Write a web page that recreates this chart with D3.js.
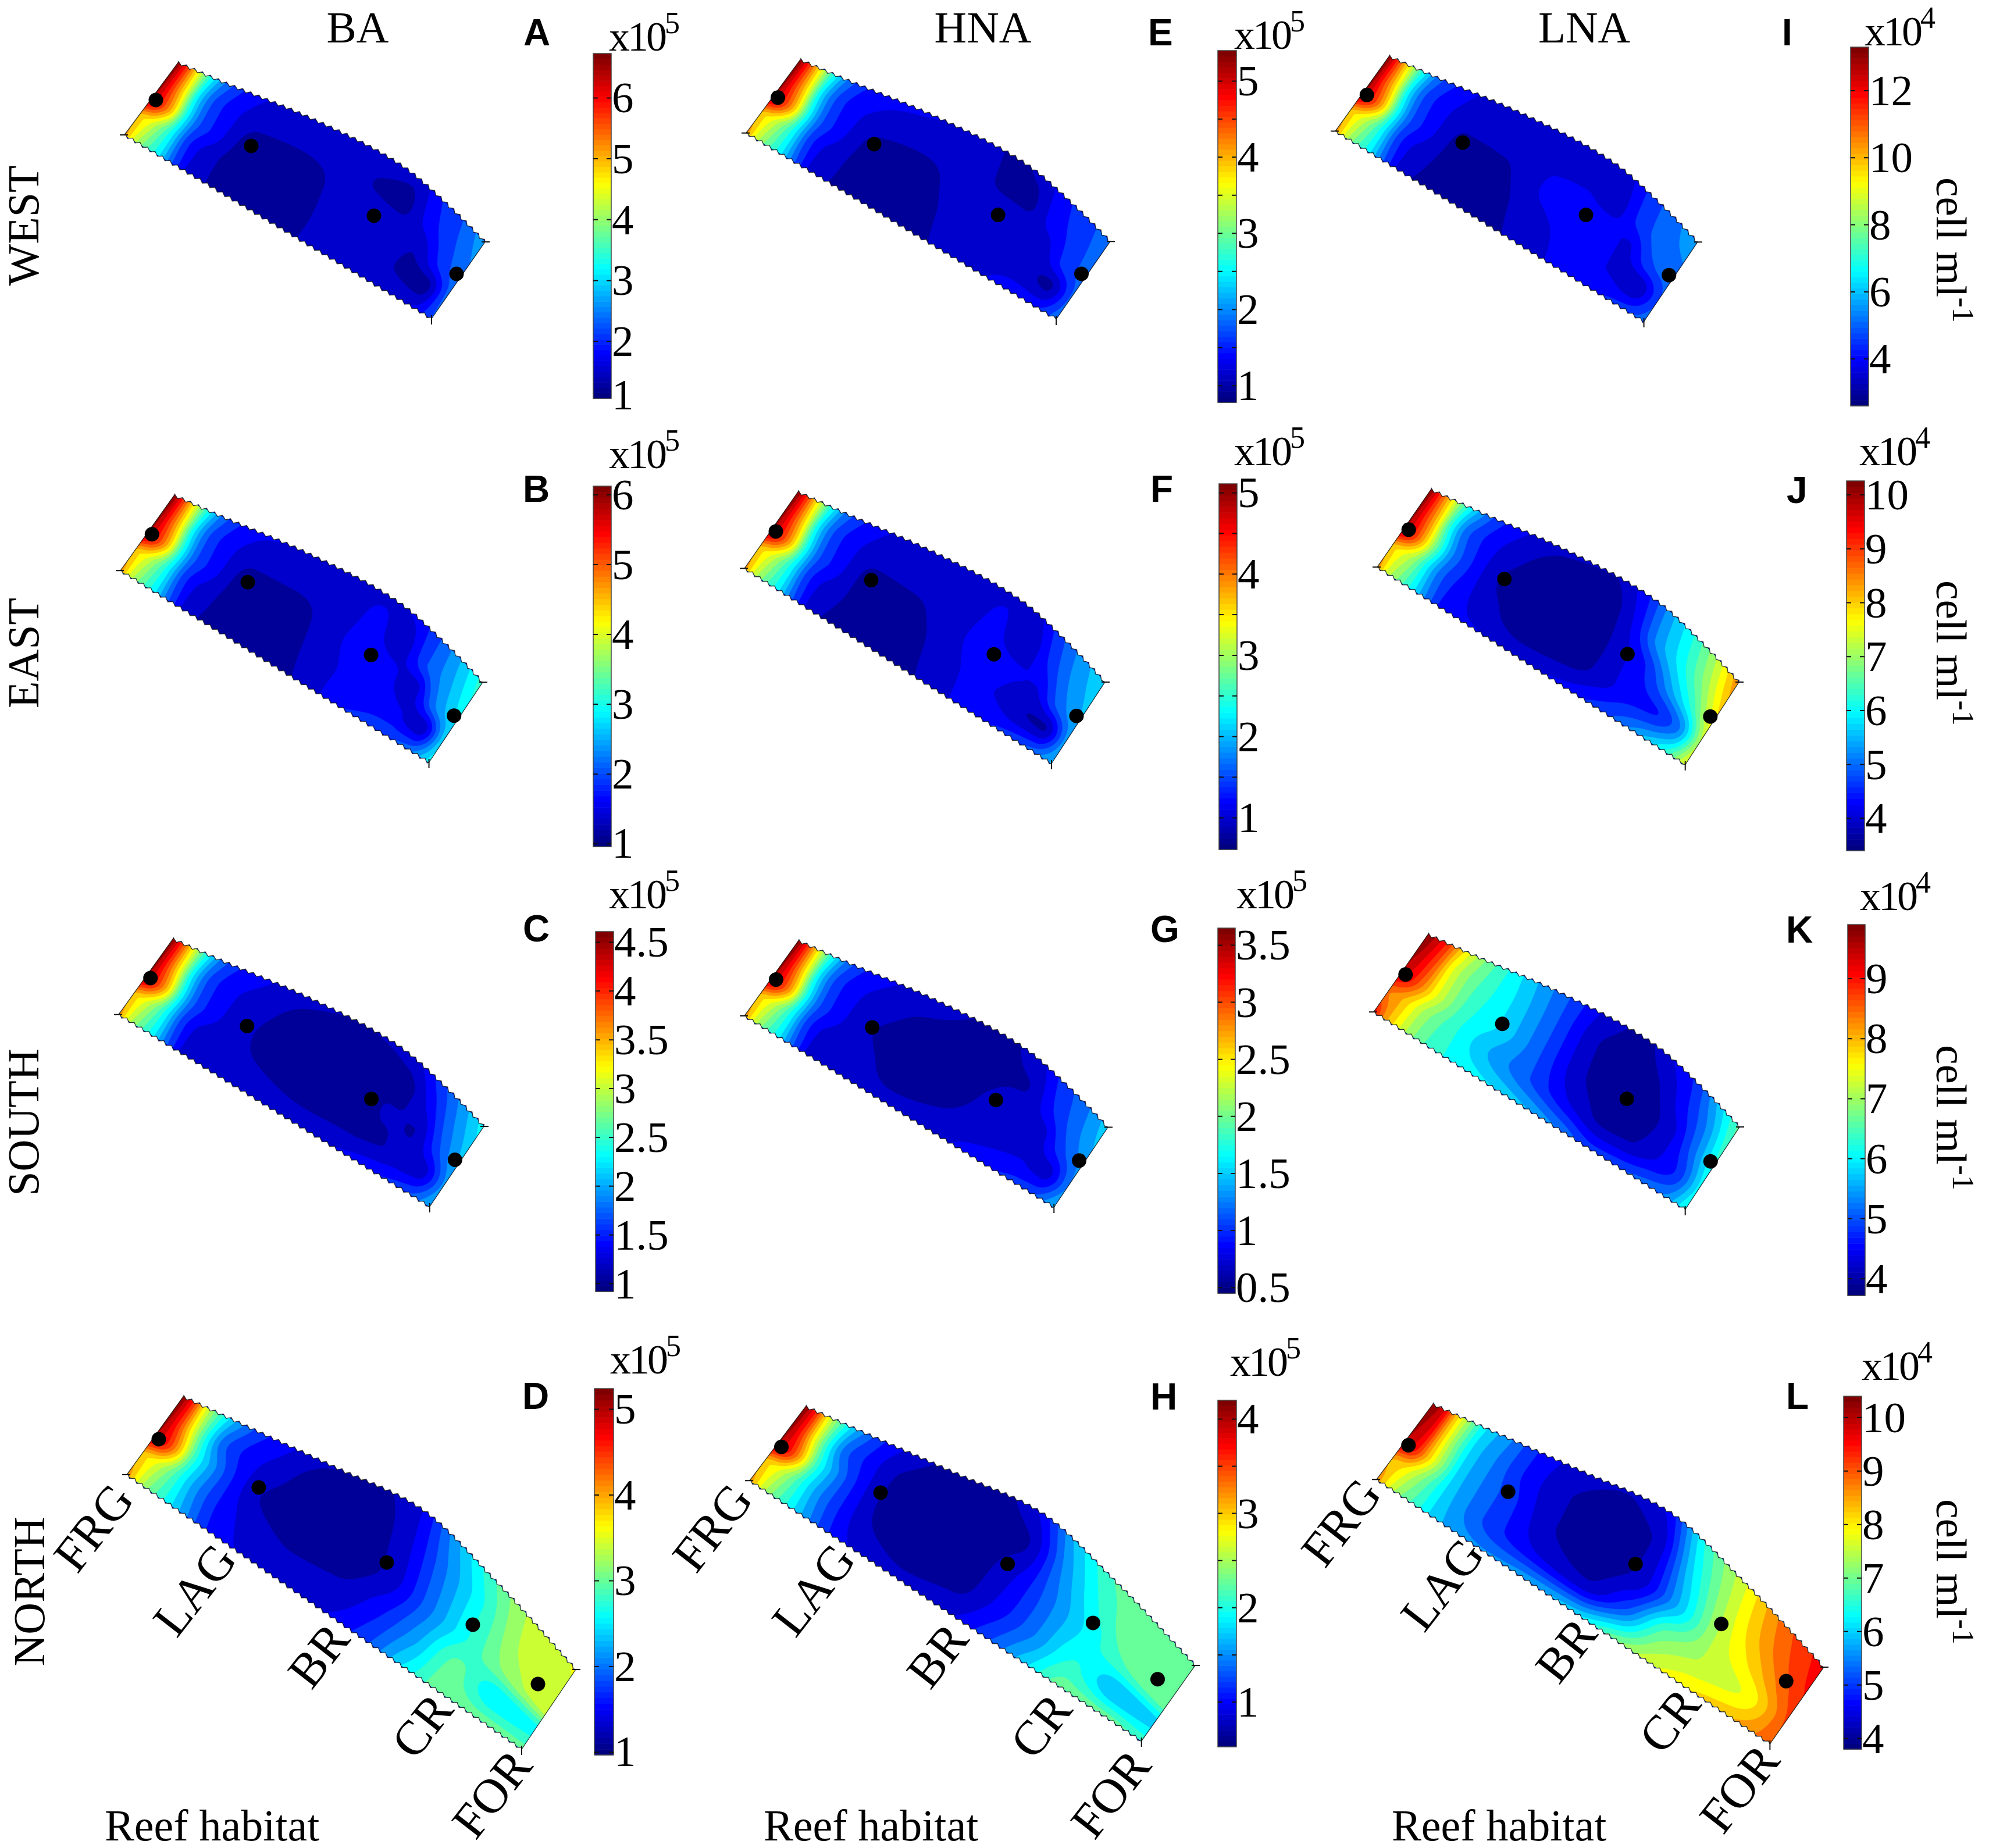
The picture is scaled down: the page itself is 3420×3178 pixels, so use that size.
<!DOCTYPE html>
<html><head><meta charset="utf-8">
<script src="https://cdn.jsdelivr.net/npm/d3@7"></script>
<style>html,body{margin:0;background:#fff}svg{display:block}text{font-family:"Liberation Serif",serif;fill:#000}</style>
</head><body><svg id="c" width="3420" height="3178"></svg>
<script>
// ---------- data (cells per ml, in the unit of each colour bar) ----------
const columnTitles=["BA","HNA","LNA"];
const rowTitles=["WEST","EAST","SOUTH","NORTH"];
const habitats=["FRG","LAG","BR","CR","FOR"];
const alongShort=[0,.03,.07,.11,.16,.22,.32,.45,.6,.7,.78,.86,.93,1];
const alongLong=[0,.03,.06,.1,.14,.2,.27,.38,.5,.6,.7,.8,.9,1];
const across=[0,.25,.5,.75,1];
const fieldA=[
[5.2,4.35,3.67,3.1,2.1,1.42,1.3,1.25,1.4,1.55,1.6,1.62,1.65,2.2],
[4.9,4.6,3.9,3.1,2.0,1.5,1.22,1.15,1.4,1.5,1.45,1.3,1.2,2.3],
[6.45,5.9,4.9,3.3,2.2,1.75,1.2,1.12,1.42,1.5,1.5,1.38,1.9,2.4],
[6.6,5.8,4.6,3.1,2.15,1.75,1.42,1.4,1.45,1.32,1.26,1.75,2.1,2.5],
[6.7,5.8,4.5,3.3,2.4,1.9,1.6,1.55,1.55,1.5,1.42,1.9,2.2,2.7]];
const fieldB=[
[4.78,3.96,3.34,2.82,1.94,1.27,1.15,1.12,1.3,1.7,1.8,1.95,2.15,2.9],
[4.47,4.16,3.54,2.82,1.84,1.37,1.12,1.08,1.35,1.55,1.6,1.5,1.3,2.7],
[5.87,5.4,4.47,3.03,1.99,1.58,1.1,1.1,1.38,1.6,1.55,1.35,2.2,2.8],
[6.02,5.3,4.2,2.82,1.94,1.58,1.3,1.3,1.35,1.55,1.3,1.95,2.4,3.0],
[6.12,5.3,4.1,3.03,2.15,1.73,1.5,1.45,1.42,1.42,1.5,1.95,2.5,3.15]];
const fieldC=[
[3.65,3.06,2.62,2.25,1.62,1.14,1.2,1.18,1.22,1.3,1.4,1.5,1.65,2.05],
[3.43,3.21,2.77,2.25,1.55,1.21,1.15,1.09,1.05,1.05,1.08,1.15,1.2,1.9],
[4.43,4.09,3.43,2.4,1.66,1.36,1.15,1.0,1.0,1.02,1.12,1.1,1.55,2.05],
[4.54,4.0,3.2,2.25,1.62,1.36,1.2,1.04,1.0,1.02,1.02,1.3,1.75,2.15],
[4.61,4.0,3.15,2.4,1.77,1.47,1.3,1.15,1.1,1.12,1.2,1.55,1.9,2.3]];
const fieldD=[
[4.13,3.45,3.0,2.6,2.17,1.61,1.4,1.3,1.4,1.75,2.5,3.05,3.05,3.0],
[3.87,3.6,3.2,2.6,2.08,1.57,1.32,1.18,1.2,1.5,2.15,2.95,2.5,2.6],
[5.0,4.64,3.96,2.76,2.17,1.57,1.18,1.03,1.05,1.25,1.95,2.7,3.2,3.5],
[5.15,4.5,3.65,2.6,1.9,1.53,1.3,1.05,1.05,1.3,2.0,2.7,3.35,3.5],
[5.24,4.5,3.55,2.76,2.2,1.7,1.45,1.2,1.15,1.35,2.2,2.9,3.4,3.55]];
const fieldE=[
[4.2,3.46,2.91,2.44,1.66,1.06,.98,.95,1.02,1.2,1.25,1.38,1.45,1.85],
[3.92,3.64,3.09,2.44,1.57,1.15,.95,.88,1.05,1.15,1.18,1.1,.95,1.75],
[5.17,4.75,3.92,2.63,1.7,1.33,.95,.9,1.1,1.15,1.2,1.1,1.5,1.8],
[5.31,4.65,3.7,2.44,1.66,1.33,1.15,1.1,1.1,.98,.95,1.35,1.55,1.85],
[5.4,4.65,3.6,2.63,1.84,1.47,1.3,1.25,1.1,.98,1.05,1.42,1.6,1.9]];
const fieldF=[
[3.94,3.22,2.68,2.23,1.47,.88,.78,.78,.88,1.15,1.25,1.4,1.6,2.0],
[3.67,3.4,2.86,2.23,1.38,.97,.78,.72,.95,1.1,1.05,.85,.8,1.85],
[4.89,4.48,3.67,2.41,1.51,1.15,.76,.78,1.0,1.15,1.1,1.05,1.55,1.95],
[5.02,4.4,3.45,2.23,1.47,1.15,.92,.92,.98,1.1,.85,1.3,1.75,2.05],
[5.11,4.4,3.35,2.41,1.65,1.29,1.05,1.0,1.0,1.02,1.0,1.45,1.85,2.15]];
const fieldG=[
[2.82,2.31,1.92,1.6,1.06,.64,.68,.66,.7,.82,.9,.98,1.08,1.45],
[2.63,2.43,2.05,1.6,.99,.71,.66,.57,.6,.66,.72,.75,.7,1.25],
[3.49,3.2,2.63,1.73,1.09,.83,.62,.55,.56,.62,.7,.7,1.0,1.3],
[3.59,3.15,2.45,1.6,1.06,.83,.68,.58,.55,.58,.6,.9,1.15,1.42],
[3.65,3.15,2.4,1.73,1.19,.93,.78,.7,.6,.6,.7,1.0,1.2,1.5]];
const fieldH=[
[3.24,2.66,2.29,1.92,1.55,1.08,.85,.75,.85,1.2,1.75,2.3,2.3,2.1],
[3.0,2.8,2.44,1.92,1.48,1.04,.72,.64,.65,.95,1.45,2.0,1.65,1.75],
[4.0,3.7,3.1,2.07,1.55,1.04,.68,.56,.6,.85,1.4,1.9,2.2,2.35],
[4.13,3.6,2.85,1.92,1.33,1.0,.7,.56,.56,.68,1.5,2.05,2.35,2.35],
[4.2,3.6,2.8,2.07,1.55,1.1,.85,.66,.66,.9,1.7,2.2,2.35,2.35]];
const fieldI=[
[10.5,8.8,7.5,6.45,4.63,3.24,3.0,3.0,3.3,3.75,3.9,4.2,4.5,5.0],
[9.9,9.2,7.95,6.45,4.42,3.46,3.0,2.95,3.5,3.75,3.75,3.6,3.2,4.7],
[12.8,11.8,9.9,6.9,4.74,3.88,3.0,3.05,3.75,3.9,3.9,3.6,4.6,5.0],
[13.1,11.5,9.3,6.45,4.63,3.88,3.35,3.35,3.6,3.6,3.4,4.4,5.0,5.3],
[13.3,11.5,9.1,6.9,5.06,4.2,3.6,3.55,3.5,3.5,3.55,4.5,5.1,5.7]];
const fieldJ=[
[8.5,7.4,6.7,6.0,5.0,4.2,4.1,4.0,4.2,4.55,4.9,5.5,6.2,7.6],
[8.05,7.65,7.0,6.0,4.9,4.3,3.85,3.55,3.6,3.95,4.3,4.4,5.0,7.2],
[9.9,9.3,8.05,6.5,5.1,4.4,3.7,3.5,3.5,3.95,4.4,5.3,6.2,7.7],
[10.1,9.2,7.9,6.15,4.9,4.36,3.85,3.55,3.5,4.1,5.2,6.0,6.9,8.1],
[10.26,9.2,7.8,6.5,5.4,4.6,4.1,3.8,3.75,4.3,5.3,6.2,7.2,8.5]];
const fieldK=[
[9.2,8.3,7.6,7.0,6.5,6.2,6.0,5.7,5.2,4.8,4.9,5.1,5.3,6.2],
[8.4,8.2,7.7,7.1,6.6,6.2,5.6,5.0,4.25,3.95,4.0,4.3,4.7,6.0],
[9.4,9.1,8.4,7.6,6.9,6.3,5.85,5.0,4.02,3.85,3.9,4.2,5.0,6.2],
[9.7,9.3,8.6,7.6,6.9,6.4,5.85,5.0,4.0,3.85,4.0,4.5,5.2,6.4],
[9.9,9.5,8.8,7.9,7.1,6.5,5.8,5.0,4.15,3.95,4.3,4.7,5.6,6.6]];
const fieldL=[
[8.7,7.76,7.1,6.57,6.0,5.6,5.5,5.7,6.0,7.0,7.7,8.1,8.4,9.0],
[8.4,8.1,7.5,6.7,6.0,5.4,4.9,4.4,4.15,5.0,6.9,7.5,7.8,9.1],
[10.0,9.5,8.4,7.1,6.0,5.4,4.9,4.15,3.95,4.2,5.8,7.5,8.3,9.3],
[10.2,9.7,8.4,7.0,6.0,5.4,4.75,4.15,3.95,4.15,6.1,7.6,8.7,9.5],
[10.4,9.8,8.4,7.1,6.1,5.5,4.8,4.3,4.15,4.5,6.5,7.7,8.9,9.6]];
// map-space outlines and stations of the two strip shapes
const shortTop={x:[92,169,322,479,560,620],y:[0,33,96,178,248,308]};
const shortEnds={left:[0,124],bottom:[528,440],w:620,h:440};
const shortStations={x:[54,218,429,571],y:[64,143,263,363]};
const longTop={x:[97,200,360,501,640,772],y:[0,48,122,189,323,469]};
const longEnds={left:[0,134],bottom:[679,606],w:772,h:606};
const longStations={x:[55,227,447,595,707],y:[73,156,285,392,494]};

// ---------- layout ----------
const panels=[
 {id:"A",f:fieldA,box:[214,834,108,548],bar:[1020,1051,92,685],dom:[1.064,6.73],ticks:[1,2,3,4,5,6],mag:5,mx:1047,my:87,lx:900,ly:78},
 {id:"B",f:fieldB,box:[207,830,852,1311],bar:[1020,1051,836,1456],dom:[.96,6.125],ticks:[1,2,3,4,5,6],mag:5,mx:1047,my:805,lx:899,ly:863},
 {id:"C",f:fieldC,box:[204,832,1615,2075],bar:[1024,1055,1602,2221],dom:[.92,4.61],ticks:[1,1.5,2,2.5,3,3.5,4,4.5],mag:5,mx:1047,my:1562,lx:899,ly:1619},
 {id:"D",long:true,f:fieldD,box:[218,990,2402,3008],bar:[1022,1055,2388,3018],dom:[.97,5.24],ticks:[1,2,3,4,5],mag:5,mx:1049,my:2362,lx:898,ly:2423},
 {id:"E",f:fieldE,box:[1283,1909,103,549],bar:[2094,2126,87,692],dom:[.78,5.40],ticks:[1,2,3,4,5],minor:[1.5,2.5,3.5,4.5],mag:5,mx:2122,my:84,lx:1974,ly:78},
 {id:"F",f:fieldF,box:[1280,1900,846,1313],bar:[2096,2127,832,1461],dom:[.61,5.11],ticks:[1,2,3,4,5],minor:[1.5,2.5,3.5,4.5],mag:5,mx:2122,my:800,lx:1978,ly:863},
 {id:"G",f:fieldG,box:[1280,1905,1618,2076],bar:[2094,2124,1596,2224],dom:[.45,3.65],ticks:[.5,1,1.5,2,2.5,3,3.5],mag:5,mx:2126,my:1562,lx:1978,ly:1620},
 {id:"H",long:true,f:fieldH,box:[1289,2055,2419,2994],bar:[2094,2126,2408,3004],dom:[.525,4.2],ticks:[1,2,3,4],minor:[1.5,2.5,3.5],mag:5,mx:2115,my:2366,lx:1978,ly:2424},
 {id:"I",f:fieldI,box:[2296,2919,97,553],bar:[3182,3213,81,698],dom:[2.6,13.3],ticks:[4,6,8,10,12],mag:4,mx:3206,my:78,lx:3064,ly:78,unit:430},
 {id:"J",f:fieldJ,box:[2368,2990,842,1315],bar:[3175,3206,827,1463],dom:[3.4,10.26],ticks:[4,5,6,7,8,9,10],mag:4,mx:3197,my:800,lx:3072,ly:865,unit:1123},
 {id:"K",f:fieldK,box:[2362,2991,1607,2080],bar:[3177,3207,1590,2228],dom:[3.72,9.9],ticks:[4,5,6,7,8,9],mag:4,mx:3198,my:1565,lx:3071,ly:1621,unit:1922},
 {id:"L",long:true,f:fieldL,box:[2367,3136,2415,2999],bar:[3170,3201,2401,3008],dom:[3.8,10.4],ticks:[4,5,6,7,8,9,10],mag:4,mx:3201,my:2373,lx:3071,ly:2423,unit:2703}
];
const svg=d3.select("#c");
svg.append("rect").attr("width",3420).attr("height",3178).attr("fill","#fff");

function jet(t){
  const c=x=>Math.max(0,Math.min(1,x));
  const r=c(Math.min(4*t-1.5,-4*t+4.5)),g=c(Math.min(4*t-.5,-4*t+3.5)),b=c(Math.min(4*t+.5,-4*t+2.5));
  return d3.rgb(r*255,g*255,b*255).formatRgb();
}
function mono(xs,ys){
  const n=xs.length,d=[],m=new Array(n);
  for(let i=0;i<n-1;i++)d[i]=(ys[i+1]-ys[i])/(xs[i+1]-xs[i]);
  m[0]=d[0];m[n-1]=d[n-2];
  for(let i=1;i<n-1;i++){
    if(d[i-1]*d[i]<=0)m[i]=0;
    else{const a=xs[i]-xs[i-1],b=xs[i+1]-xs[i];m[i]=(a+b)*3*d[i-1]*d[i]/((2*b+a)*d[i]+(b+2*a)*d[i-1]);}
  }
  return x=>{
    let i=d3.bisectRight(xs,x)-1;i=Math.max(0,Math.min(n-2,i));
    const h=xs[i+1]-xs[i],t=(x-xs[i])/h,t2=t*t,t3=t2*t;
    return (2*t3-3*t2+1)*ys[i]+(t3-2*t2+t)*h*m[i]+(-2*t3+3*t2)*ys[i+1]+(t3-t2)*h*m[i+1];
  };
}
const NU=260,NV=70,LEVELS=20;
panels.forEach(p=>{
  const us=p.long?alongLong:alongShort,top=p.long?longTop:shortTop,ends=p.long?longEnds:shortEnds,st=p.long?longStations:shortStations;
  const sx=d3.scaleLinear().domain([0,ends.w]).range([p.box[0],p.box[1]]);
  const sy=d3.scaleLinear().domain([0,ends.h]).range([p.box[2],p.box[3]]);
  const topY=mono(top.x,top.y);
  const bx=d3.scaleLinear().domain([0,1]).range([ends.left[0],ends.bottom[0]]);
  const by=d3.scaleLinear().domain([0,1]).range([ends.left[1],ends.bottom[1]]);
  const tx=d3.scaleLinear().domain([0,1]).range([top.x[0],top.x[top.x.length-1]]);
  const P=(u,v)=>{const xb=bx(u),yb=by(u),xt=tx(u),yt=topY(xt);return [sx(xb+(xt-xb)*v),sy(yb+(yt-yb)*v)];};
  const rowSpl=p.f.map(r=>mono(us,r));
  const vals=new Float64Array(NU*NV);
  for(let i=0;i<NU;i++){
    const u=i/(NU-1),col=rowSpl.map(s=>s(u)),sv=mono(across,col);
    for(let j=0;j<NV;j++)vals[i+j*NU]=sv(j/(NV-1));
  }
  const step=(p.dom[1]-p.dom[0])/LEVELS;
  const thresholds=d3.range(1,LEVELS).map(i=>p.dom[0]+i*step);
  const cont=d3.contours().size([NU,NV]).smooth(true).thresholds(thresholds)(Array.from(vals));
  const cu=d3.scaleLinear().domain([.5,NU-.5]).range([0,1]).clamp(true);
  const cv=d3.scaleLinear().domain([.5,NV-.5]).range([0,1]).clamp(true);
  const path=d3.geoPath(d3.geoTransform({point(x,y){const q=P(cu(x),cv(y));this.stream.point(q[0],q[1]);}}));
  const line=d3.line();
  function scallop(fn,amp,per){
    const pts=d3.range(0,601).map(i=>fn(i/600));let s=0;const out=[];let nextS=0,k=0;
    for(let i=1;i<pts.length;i++){
      const dx=pts[i][0]-pts[i-1][0],dy=pts[i][1]-pts[i-1][1],l=Math.hypot(dx,dy);
      while(nextS<=s+l){
        const t=(nextS-s)/l,nx=-dy/l,ny=dx/l,o=(k%2?amp:-amp);
        out.push([pts[i-1][0]+dx*t+nx*o,pts[i-1][1]+dy*t+ny*o]);k++;nextS+=per/2;
      }
      s+=l;
    }
    return out;
  }
  const bottomEdge=scallop(u=>P(u,0),2.6,15);
  const topEdge=scallop(u=>P(u,1),2.6,15);
  const corners=[P(0,0),P(1,0),P(1,1),P(0,1)];
  const outline=[corners[0],...bottomEdge,corners[1],corners[2],...topEdge.slice().reverse(),corners[3]];
  const cid="clip"+p.id;
  svg.append("clipPath").attr("id",cid).append("path").attr("d",line(outline)+"Z");
  const g=svg.append("g").attr("clip-path",`url(#${cid})`);
  g.append("path").attr("d",line(outline)+"Z").attr("fill",jet(.5/LEVELS));
  g.selectAll("path.band").data(cont).join("path").attr("class","band")
    .attr("d",d=>path(d)).attr("fill",(d,i)=>jet((i+1.5)/LEVELS)).attr("stroke",(d,i)=>jet((i+1.5)/LEVELS)).attr("stroke-width",.4);
  svg.append("path").attr("d",line(outline)+"Z").attr("fill","none").attr("stroke","#111").attr("stroke-width",1.3).attr("stroke-opacity",.8);
  const lt=corners[0],rt=corners[2],bt=corners[1];
  svg.append("path").attr("d",`M${lt[0]-8},${lt[1]}H${lt[0]+6}M${rt[0]-6},${rt[1]}H${rt[0]+8}M${bt[0]},${bt[1]-6}V${bt[1]+10}`).attr("stroke","#111").attr("stroke-width",2).attr("fill","none");
  svg.selectAll("circle.s"+p.id).data(st.x.map((x,i)=>[x,st.y[i]])).join("circle")
    .attr("class","s"+p.id).attr("cx",d=>sx(d[0])).attr("cy",d=>sy(d[1])).attr("r",12.5).attr("fill","#000");
  const [x0,x1,y0,y1]=p.bar;
  const cb=d3.scaleLinear().domain(p.dom).range([y1,y0]);
  const steps=d3.range(64);
  const h=(y1-y0)/64;
  svg.append("g").selectAll("rect").data(steps).join("rect")
    .attr("x",x0).attr("width",x1-x0).attr("y",d=>y1-(d+1)*h).attr("height",h+.6).attr("fill",d=>jet(d/63));
  svg.append("rect").attr("x",x0).attr("y",y0).attr("width",x1-x0).attr("height",y1-y0).attr("fill","none").attr("stroke","#444").attr("stroke-width",1.5);
  const mk=(p.ticks.concat(p.minor||[])).filter(t=>t>=p.dom[0]&&t<=p.dom[1]);
  svg.append("path").attr("d",mk.map(t=>`M${x0},${cb(t)}h8M${x1-8},${cb(t)}h8`).join("")).attr("stroke","#111").attr("stroke-width",2);
  svg.append("g").selectAll("text").data(p.ticks).join("text")
    .attr("x",x1+1).attr("y",t=>Math.min(y1-6,Math.max(y0+6,cb(t)))+25).attr("font-size",75).text(t=>t);
  const m=svg.append("text").attr("x",p.mx).attr("y",p.my).attr("font-size",72).attr("letter-spacing",-4);
  m.append("tspan").text("x10");
  m.append("tspan").attr("dy",-30).attr("font-size",52).text(p.mag);
  svg.append("text").attr("x",p.lx).attr("y",p.ly).attr("font-size",64).attr("font-weight",700).style("font-family","'Liberation Sans',sans-serif").text(p.id);
  if(p.unit){
    const u=svg.append("text").attr("text-anchor","middle").attr("font-size",75)
      .attr("transform",`translate(3330,${p.unit}) rotate(90)`);
    u.append("tspan").text("cell ml");
    u.append("tspan").attr("dy",-28).attr("font-size",52).text("-1");
  }
});
const serif75=s=>s.attr("font-size",76);
const titleX=[615,1690,2724];
columnTitles.forEach((t,i)=>svg.append("text").attr("x",titleX[i]).attr("y",73).attr("text-anchor","middle").attr("font-size",77).text(t));
const rowY=[388,1123,1930,2737],rowX=[66,66,66,76];
rowTitles.forEach((t,i)=>svg.append("text").attr("text-anchor","middle").call(serif75).attr("transform",`translate(${rowX[i]},${rowY[i]}) rotate(-90)`).text(t));
const reefX=[180,1313,2393];
reefX.forEach(x=>svg.append("text").attr("x",x).attr("y",3165).call(serif75).text("Reef habitat"));
const habX=[183,357,570,748,868],habY=[2620,2727,2840,2961,3078];
const habDx=[0,1064,2145],habDy=[0,0,-9];
habDx.forEach((dx,c)=>habitats.forEach((t,i)=>svg.append("text").attr("text-anchor","middle").attr("font-size",84)
  .attr("transform",`translate(${habX[i]+dx},${habY[i]+habDy[c]+24}) rotate(-52)`).text(t)));
</script></body></html>
